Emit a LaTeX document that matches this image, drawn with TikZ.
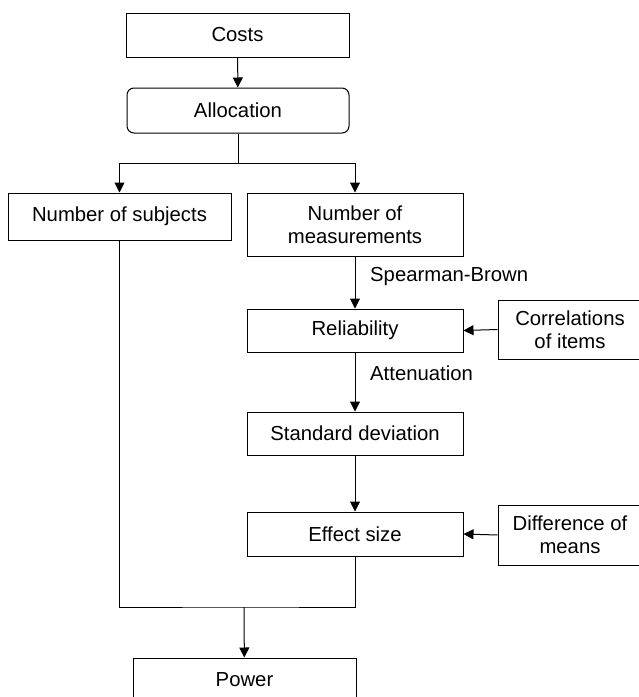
\documentclass[tikz,border=0pt]{standalone}
\usepackage{fontspec}
\setmainfont{Liberation Sans}
\usetikzlibrary{arrows.meta}
\begin{document}
\begin{tikzpicture}[x=1pt,y=-1pt,
  box/.style={draw, line width=1pt, inner sep=0pt, align=center,
    font=\fontsize{20.3}{23}\selectfont},
  rbox/.style={box, rounded corners=7pt},
  lab/.style={font=\fontsize{20.3}{23}\selectfont, anchor=west, inner sep=0pt},
  link/.style={line width=1pt},
  arr/.style={link, -{Triangle[length=10pt,width=10pt]}}]
\useasboundingbox (0,0) rectangle (639,697);
\clip (0,0) rectangle (639,697);
\node[box, minimum width=223pt, minimum height=44pt] (costs) at (237.5,35) {Costs};
\node[rbox, minimum width=222pt, minimum height=45pt] (alloc) at (238,110.5) {Allocation};
\node[box, minimum width=223pt, minimum height=47pt] (subj) at (119.5,216.5) {Number of subjects};
\node[box, minimum width=216pt, minimum height=63pt] (meas) at (355,224.5) {Number of\\measurements};
\node[box, minimum width=216pt, minimum height=43pt] (rel) at (355,330.5) {Reliability};
\node[box, minimum width=144pt, minimum height=59pt] (corr) at (570,329.5) {Correlations\\of items};
\node[box, minimum width=216pt, minimum height=43pt] (sd) at (355,433.5) {Standard deviation};
\node[box, minimum width=216pt, minimum height=44pt] (es) at (355,534) {Effect size};
\node[box, minimum width=144pt, minimum height=60pt] (diff) at (570,535) {Difference of\\means};
\node[box, minimum width=223pt, minimum height=44pt] (power) at (244.5,680) {Power};
\node[lab] (sb) at (370,277) {Spearman-Brown};
\node[lab] (att) at (370,373) {Attenuation};
\coordinate (j1) at (238,163);
\coordinate (j2) at (244,607);
\draw[arr] (costs) -- (alloc);
\draw[link] (alloc) -- (j1);
\draw[arr] (j1) -| (subj);
\draw[arr] (j1) -| (meas);
\draw[arr] (meas) -- (rel);
\draw[arr] (rel) -- (sd);
\draw[arr] (sd) -- (es);
\draw[arr] (corr.west) -- (rel.east);
\draw[arr] (diff.west) -- (es.east);
\draw[link] (subj.south) |- (j2) -| (es.south);
\draw[arr] (j2) -- (power);
\end{tikzpicture}
\end{document}
